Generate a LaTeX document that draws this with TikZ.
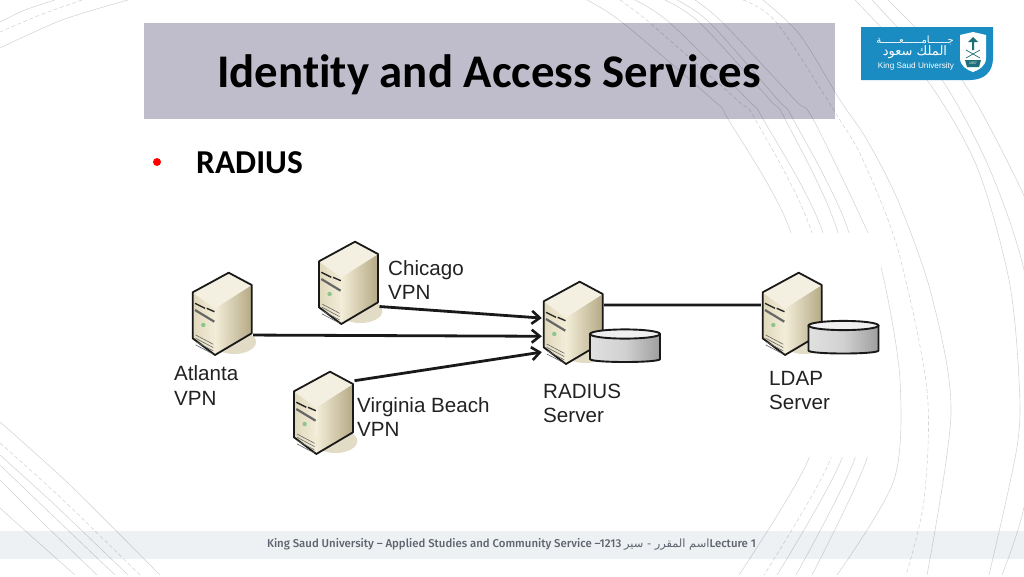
\documentclass[tikz,border=0pt]{standalone}
\usepackage{fontspec}
\setmainfont{Carlito}[Ligatures=NoCommon]
\newfontfamily\labelfont{Liberation Sans}
\newfontfamily\footfont{Fira Sans Medium}
\newfontfamily\arabicfont[Script=Arabic]{DejaVu Sans}
\TeXXeTstate=1
\usepackage{tikz}
\usetikzlibrary {arrows.meta}

\definecolor{titlebox}{HTML}{BFBDCB}
\definecolor{footband}{HTML}{EEF1F3}
\definecolor{footink}{HTML}{5F6470}
\definecolor{logoblue}{HTML}{1A8CC1}
\definecolor{logoink}{HTML}{1F6F78}
\definecolor{labelink}{HTML}{222222}
\definecolor{srvtop}{HTML}{F4F0E1}
\definecolor{srvfront}{HTML}{E0D8BC}
\definecolor{srvlight}{HTML}{F3EDD8}
\definecolor{srvdark}{HTML}{B5A985}
\definecolor{srvshadow}{HTML}{E2DCC6}

\tikzset{
	bgline/.style={draw=black,draw opacity=0.16,line width=0.6pt},
	bgdash/.style={bgline,dash pattern=on 4pt off 2.5pt},
	srv/.style={shape=rectangle,minimum width=62pt,minimum height=84pt,inner sep=0pt},
	lbl/.style={font=\labelfont\fontsize{20.6}{24.6}\selectfont,text=labelink,align=left,anchor=west,inner sep=0pt},
	link/.style={line width=2.8pt,draw=black!90},
	serverbox/.pic={
		\fill[srvshadow] (12,28) ellipse [x radius=22,y radius=12];
		\shade[left color=srvfront,right color=srvlight] (-29.3,-21.7) -- (-7,-5.7) -- (-7,41) -- (-29.3,24.3) -- cycle;
		\shade[shading angle=60,left color=srvlight,right color=srvdark] (-7,-5.7) -- (29.7,-29) -- (29.7,19.3) -- (-7,41) -- cycle;
		\fill[srvtop] (6.7,-41.3) -- (29.7,-29) -- (-7,-5.7) -- (-29.3,-21.7) -- cycle;
		\draw[line width=1.8pt,line join=round,draw=black!90] (6.7,-41.3) -- (29.7,-29) -- (29.7,19.3) -- (-7,41) -- (-29.3,24.3) -- (-29.3,-21.7) -- cycle;
		\draw[line width=1.4pt,draw=black!85] (-27,-10.7) -- (-17,-5.7);
		\draw[line width=1.4pt,draw=black!85] (-15.3,-5.7) -- (-7.5,-2.3);
		\draw[line width=2.2pt,draw=black!60] (-27,-4) -- (-7.7,7.7);
		\fill[black!50!green!45!white] (-18.7,11) circle (2.2);
		\foreach \n in {0,1,2,3}
			\draw[line width=0.6pt,draw=black!60] (-26.3,21+\n*3.3) -- (-8.7,30.3+\n*3.3);
	},
	diskbox/.pic={
		\shade[left color=black!12,right color=black!38,middle color=black!18] (-35,-12) -- (35,-12) -- (35,13) .. controls (35,17) and (-35,17) .. (-35,13) -- cycle;
		\draw[line width=1.9pt,draw=black!90] (-35,-12) -- (-35,13) .. controls (-35,17) and (35,17) .. (35,13) -- (35,-12);
		\draw[line width=1.9pt,draw=black!90,fill=black!6] (0,-12) ellipse [x radius=35,y radius=4.6];
	},
}

\begin{document}
\begin{tikzpicture}[x=1pt,y=-1pt,>={Straight Barb[length=8pt,width=13pt,line width=2.6pt]}]
	
	\useasboundingbox (0,0) rectangle (1024,576);
	\clip (0,0) rectangle (1024,576);
	\fill[white] (0,0) rectangle (1024,576);
	
	% title and footer bands
	\fill[titlebox] (144,23) rectangle (835,119);
	\fill[footband] (0,531) rectangle (1024,559);
	
	% background arcs
	\draw[bgline] plot[smooth] coordinates {(55,0) (25,10) (0,22)};
	\draw[bgdash] plot[smooth] coordinates {(82,0) (40,15) (0,32)};
	\draw[bgline] plot[smooth] coordinates {(128,0) (62,20) (0,48)};
	
	\draw[bgline] plot[smooth] coordinates {(0,422) (70,485) (160,575)};
	\draw[bgdash] plot[smooth] coordinates {(0,443) (60,497) (140,575)};
	\draw[bgline] plot[smooth] coordinates {(0,455) (55,505) (128,575)};
	\draw[bgline] plot[smooth] coordinates {(0,465) (50,513) (115,575)};
	\draw[bgline] plot[smooth] coordinates {(0,480) (40,520) (97,575)};
	\draw[bgline] plot[smooth] coordinates {(0,508) (30,535) (75,575)};
	
	\draw[bgline] plot[smooth] coordinates {(587,0) (623,23) (713,100) (728,119) (791,233) (812,380) (809,458) (739,575)};
	\draw[bgdash] plot[smooth] coordinates {(620,0) (650,23) (737,100) (755,119) (812,233) (835,380) (831,458) (764,575)};
	\draw[bgline] plot[smooth] coordinates {(635,0) (670,23) (748,100) (763,119) (823,233) (846,380) (842,458) (777,575)};
	\draw[bgline] plot[smooth] coordinates {(665,0) (700,23) (770,100) (785,119) (838,233) (860,380) (855,458) (796,575)};
	\draw[bgline] plot[smooth] coordinates {(677,0) (710,23) (778,100) (793,119) (849,233) (872,380) (867,458) (812,575)};
	\draw[bgline] plot[smooth] coordinates {(695,0) (723,23) (795,100) (813,119) (868,233) (884,280) (900,380) (894,480) (837,575)};
	\draw[bgdash] plot[smooth] coordinates {(743,0) (777,23) (838,117) (863,160) (898,250) (927,390) (924,500) (906,575)};
	\draw[bgline] plot[smooth] coordinates {(763,0) (800,35) (840,100) (867,140) (899,203) (932,297) (951,413) (927,575)};
	
	\draw[bgline] plot[smooth] coordinates {(855,0) (927,80) (977,167) (1009,280) (1019,380) (1017,447) (989,575)};
	\draw[bgline] plot[smooth] coordinates {(872,0) (942,80) (990,170) (1024,270) (1040,390) (1024,507) (1002,575)};
	\draw[bgline] plot[smooth] coordinates {(888,0) (962,80) (1020,187) (1035,230)};
	
	% white panel behind the diagram
	\fill[white] (150,233) rectangle (881,457);
	
	% heading
	\node[font=\fontsize{46.8}{56}\selectfont\bfseries,anchor=base,inner sep=0pt] (title) at (489,87) {Identity and Access Services};
	\fill[red] (157,162) circle (4);
	\node[font=\fontsize{33.4}{40}\selectfont\bfseries,anchor=base west,inner sep=0pt] (bullet) at (196,173.5) {RADIUS};
	
	% logo
	\fill[logoblue] (861,27) -- (993,27) -- (993,58) .. controls (993,72) and (984,80) .. (970,80) -- (861,80) -- cycle;
	\fill[white] (960,35) -- (973,32) -- (986,35) -- (986,58) .. controls (986,66) and (979,70) .. (973,72) .. controls (967,70) and (960,66) .. (960,58) -- cycle;
	\fill[logoink] (973,37) -- (978,42) -- (974,42) -- (974,50) -- (972,50) -- (972,42) -- (968,42) -- cycle;
	\draw[logoink,line width=0.7pt] (966,50) -- (980,58) (980,50) -- (966,58);
	\fill[logoink] (965,60) -- (981,60) -- (979,67) -- (967,67) -- cycle;
	\node[font=\labelfont\fontsize{3.5}{4}\selectfont,text=white,inner sep=0pt] (logoyear) at (973,63.5) {1957};
	\node[font=\arabicfont\fontsize{10}{12}\selectfont,text=white,inner sep=0pt] (logoone) at (915,40) {\beginR جــــــامــــــعــــــة\endR};
	\node[font=\arabicfont\fontsize{13}{15}\selectfont,text=white,inner sep=0pt] (logotwo) at (915,52) {\beginR الملك سعود\endR};
	\node[font=\labelfont\fontsize{8.2}{10}\selectfont,text=white,inner sep=0pt] (logothree) at (916,66) {King Saud University};
	
	% footer
	\node[font=\footfont\fontsize{11.4}{13}\selectfont,text=footink,inner sep=0pt] (foot) at (511.5,544) {King Saud University – Applied Studies and Community Service –1213 {\arabicfont\beginR اسم المقرر - سير\endR}Lecture 1};
	
	% servers
	\node[srv] (atlanta) at (222,314) {};
	\node[srv] (chicago) at (348.3,283) {};
	\node[srv] (virginia) at (323.3,413) {};
	\node[srv] (radius) at (573,323) {};
	\node[srv] (ldap) at (792,314) {};
	
	\pic at (atlanta.center) {serverbox};
	\pic at (chicago.center) {serverbox};
	\pic at (virginia.center) {serverbox};
	\pic at (radius.center) {serverbox};
	\pic at (ldap.center) {serverbox};
	\pic at (625,346) {diskbox};
	\pic at (843.5,337.5) {diskbox};
	
	% labels
	\node[lbl] (chicagotext) at (388,280) {Chicago\\VPN};
	\node[lbl] (atlantatext) at (174,385.5) {Atlanta\\VPN};
	\node[lbl] (virginiatext) at (357,417) {Virginia Beach\\VPN};
	\node[lbl] (radiustext) at (543,403.5) {RADIUS\\Server};
	\node[lbl] (ldaptext) at (769,390.5) {LDAP\\Server};
	
	% links
	\path [->] (chicago.-37) edge[link] (radius.171);
	\path [->] (atlanta.-34) edge[link] (radius.203);
	\path [->] (virginia.46) edge[link] (radius.223);
	\path (radius.30) edge[link] (ldap.164);
	
\end{tikzpicture}
\end{document}
